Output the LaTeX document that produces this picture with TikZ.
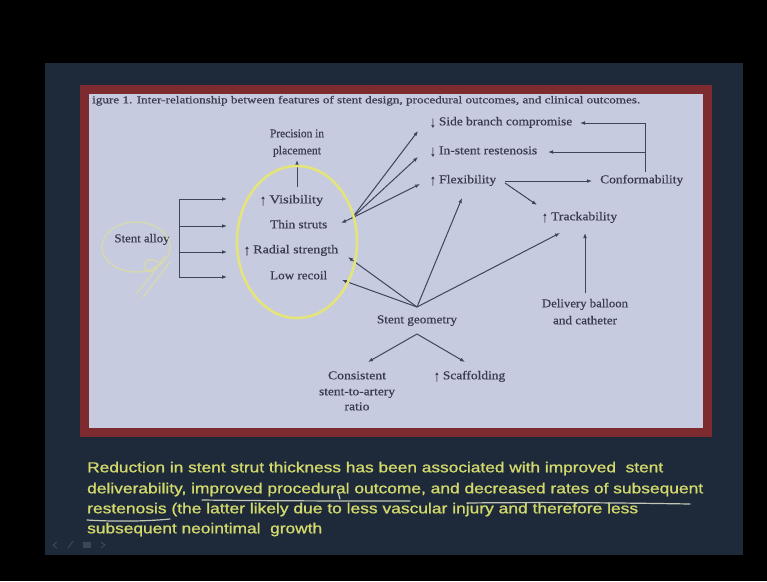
\documentclass[tikz,border=0pt]{standalone}
\usepackage{fontspec}
\setmainfont[FakeBold=0.5]{Liberation Serif}
\newfontfamily\slidefont[FakeBold=1]{Liberation Sans}
\usetikzlibrary{arrows.meta}
\newcommand{\fitw}[2]{\resizebox{#1pt}{\height}{#2}}
\newcommand{\tallup}{\raisebox{-0.15em}{\scalebox{0.8}[1.25]{↑}}}
\newcommand{\talldown}{\raisebox{-0.15em}{\scalebox{0.8}[1.25]{↓}}}
\definecolor{panelc}{HTML}{1E2A3A}
\definecolor{framec}{HTML}{7E2B30}
\definecolor{paperc}{HTML}{C7CBE0}
\definecolor{linec}{HTML}{3E4459}
\definecolor{labc}{HTML}{393B4E}
\definecolor{hiyel}{HTML}{E4E47A}
\definecolor{paleyel}{HTML}{DADDA4}
\definecolor{txtyel}{HTML}{D3D96C}
\definecolor{penc}{HTML}{C3C6B4}
\definecolor{navc}{HTML}{3A475B}
\begin{document}
\begin{tikzpicture}[x=1pt,y=-1pt,
  lbl/.style={inner sep=0pt, font=\fontsize{12}{13}\selectfont, text=labc},
  btxt/.style={inner sep=0pt, font=\slidefont\fontsize{14.5}{16}\selectfont, text=txtyel},
  conn/.style={draw=linec, line width=1pt, -{Latex[length=5pt,width=3.8pt]}},
  plain/.style={draw=linec, line width=1pt},
  hilite/.style={draw=hiyel, line width=2.6pt},
  pen/.style={draw=paleyel, line width=1.4pt, opacity=0.8, line cap=round},
  uline/.style={draw=penc, line width=1.2pt, line cap=round}]
\useasboundingbox (0,0) rectangle (767,581);
\fill[black] (0,0) rectangle (767,581);
\fill[panelc] (45,63) rectangle (743,555);
\fill[paperc] (84.5,89.5) rectangle (707.5,432.5);
\draw[framec, line width=9pt] (84.5,89.5) rectangle (707.5,432.5);

% caption
\node[lbl, anchor=mid west, font=\fontsize{10.5}{11}\selectfont] (cap) at (92,101)
  {\fitw{548}{igure 1. Inter-relationship between features of stent design, procedural outcomes, and clinical outcomes.}};

% labels
\node[lbl, anchor=mid] (prec1) at (297,135) {\fitw{54}{Precision in}};
\node[lbl, anchor=mid] (prec2) at (297,152) {\fitw{48}{placement}};
\node[lbl, anchor=mid west] (vis) at (260,201) {\fitw{63}{\tallup\ Visibility}};
\node[lbl, anchor=mid west] (thin) at (270,226) {\fitw{57}{Thin struts}};
\node[lbl, anchor=mid west] (rad) at (244,251) {\fitw{94}{\tallup\ Radial strength}};
\node[lbl, anchor=mid west] (low) at (270,277) {\fitw{57}{Low recoil}};
\node[lbl, anchor=mid] (alloy) at (142,240) {\fitw{55}{Stent alloy}};
\node[lbl, anchor=mid west] (sb) at (430,123) {\fitw{142}{\talldown\ Side branch compromise}};
\node[lbl, anchor=mid west] (isr) at (430,152) {\fitw{107}{\talldown\ In-stent restenosis}};
\node[lbl, anchor=mid west] (flex) at (430,181) {\fitw{66}{\tallup\ Flexibility}};
\node[lbl, anchor=mid west] (conf) at (600,181) {\fitw{83}{Conformability}};
\node[lbl, anchor=mid west] (track) at (542,218) {\fitw{75}{\tallup\ Trackability}};
\node[lbl, anchor=mid] (deliv1) at (585,305) {\fitw{86}{Delivery balloon}};
\node[lbl, anchor=mid] (deliv2) at (585,322) {\fitw{64}{and catheter}};
\node[lbl, anchor=mid] (geom) at (417,321) {\fitw{80}{Stent geometry}};
\node[lbl, anchor=mid] (cons1) at (357,377) {\fitw{58}{Consistent}};
\node[lbl, anchor=mid] (cons2) at (357,393) {\fitw{76}{stent-to-artery}};
\node[lbl, anchor=mid] (cons3) at (357,408) {\fitw{25}{ratio}};
\node[lbl, anchor=mid west] (scaf) at (434,377) {\fitw{71}{\tallup\ Scaffolding}};

% connector points
\coordinate (brT) at (179,199);
\coordinate (br2) at (179,226);
\coordinate (br3) at (179,252);
\coordinate (brB) at (179,277);
\coordinate (visIn) at (227,199);
\coordinate (thinIn) at (227,226);
\coordinate (radIn) at (227,252);
\coordinate (lowIn) at (227,277);
\coordinate (precOut) at (297,187);
\coordinate (precIn) at (297,160);
\coordinate (tsx) at (352,218);
\coordinate (thinHead) at (341,223);
\coordinate (sbIn) at (418,131);
\coordinate (isrIn) at (418,157);
\coordinate (flexIn) at (420,184);
\coordinate (gj) at (417,307);
\coordinate (lowHead) at (342,280);
\coordinate (radHead) at (348,257);
\coordinate (flexHead) at (462,198);
\coordinate (trackHead) at (560,233);
\coordinate (gApex) at (417,334);
\coordinate (consHead) at (368,362);
\coordinate (scafHead) at (465,362);
\coordinate (delivTop) at (585,293);
\coordinate (trackHead2) at (585,233);
\coordinate (flexOut) at (505,181);
\coordinate (confIn) at (592,181);
\coordinate (flexOut2) at (505,183);
\coordinate (trackIn) at (537,205);
\coordinate (cfTop) at (645,123);
\coordinate (cfMid) at (645,152);
\coordinate (cfBot) at (645,172);
\coordinate (sbHead) at (580,123);
\coordinate (isrHead) at (548,152);

% stent alloy bracket
\draw[plain] (brT) -- (brB);
\draw[conn] (brT) -- (visIn);
\draw[conn] (br2) -- (thinIn);
\draw[conn] (br3) -- (radIn);
\draw[conn] (brB) -- (lowIn);

% precision
\draw[conn] (precOut) -- (precIn);

% thin struts fan
\draw[conn] (tsx) -- (sbIn);
\draw[conn] (tsx) -- (isrIn);
\draw[conn] (tsx) -- (flexIn);
\draw[conn] (tsx) -- (thinHead);

% stent geometry
\draw[conn] (gj) -- (lowHead);
\draw[conn] (gj) -- (radHead);
\draw[conn] (gj) -- (flexHead);
\draw[conn] (gj) -- (trackHead);
\draw[conn] (gApex) -- (consHead);
\draw[conn] (gApex) -- (scafHead);

% delivery
\draw[conn] (delivTop) -- (trackHead2);

% flexibility
\draw[conn] (flexOut) -- (confIn);
\draw[conn] (flexOut2) -- (trackIn);

% conformability
\draw[plain] (cfBot) -- (cfTop);
\draw[conn] (cfTop) -- (sbHead);
\draw[conn] (cfMid) -- (isrHead);

% yellow highlight ellipse
\draw[hilite] (297,242) ellipse [x radius=60, y radius=76];

% hand marks around stent alloy
\draw[pen] (136,247) ellipse [x radius=34, y radius=25];
\draw[pen] (165,256) .. controls (158,266) and (148,280) .. (136,294);
\draw[pen] (170,262) .. controls (162,272) and (153,285) .. (143,297);
\draw[pen] (158,262) .. controls (150,256) and (140,262) .. (146,270) .. controls (150,274) and (156,270) .. (160,264);

% bottom text
\node[btxt, anchor=mid west] (t1) at (87,470) {\fitw{576}{Reduction in stent strut thickness has been associated with improved\ \ stent}};
\node[btxt, anchor=mid west] (t2) at (87,491) {\fitw{616}{deliverability, improved procedural outcome, and decreased rates of subsequent}};
\node[btxt, anchor=mid west] (t3) at (87,511) {\fitw{551}{restenosis (the latter likely due to less vascular injury and therefore less}};
\node[btxt, anchor=mid west] (t4) at (87,531) {\fitw{235}{subsequent neointimal\ \ growth}};

% hand underlines
\draw[uline] (202,500) .. controls (280,501) and (350,501) .. (410,501);
\draw[uline] (338,492) -- (340,499);
\draw[uline] (467,503) .. controls (550,502) and (630,503) .. (690,504);
\draw[uline] (87,520) .. controls (120,522) and (150,521) .. (170,519);

% navigation marks
\draw[navc, line width=1pt] (57,542) -- (53,545) -- (57,548);
\draw[navc, line width=1pt] (68,548) -- (73,541);
\fill[navc] (83,542) rectangle (91,548);
\draw[navc, line width=1pt] (101,542) -- (105,545) -- (101,548);
\end{tikzpicture}
\end{document}
